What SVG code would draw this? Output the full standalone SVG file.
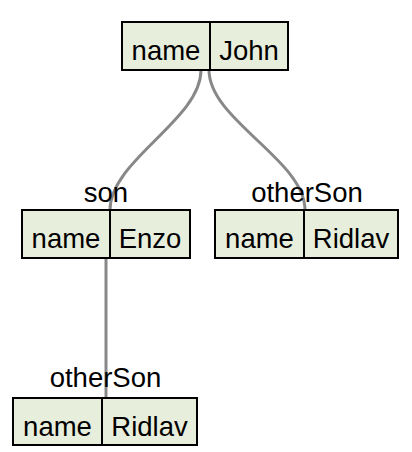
<svg xmlns="http://www.w3.org/2000/svg" width="412" height="452" viewBox="0 0 412 452">
<style>
.box{fill:#e8eedc;stroke:#000;stroke-width:2}
.div{stroke:#000;stroke-width:2}
.t{font-family:"Liberation Sans",Arial,sans-serif;font-size:27.5px;fill:#000;text-anchor:middle}
.c{fill:none;stroke:#888;stroke-width:3}
</style>
<rect width="412" height="452" fill="#fff"/>
<g id="connectors">
<path class="c" d="M201,70 C201,120 110,160 110,210"/>
<path class="c" d="M209,70 C209,120 305,160 305,210"/>
<path class="c" d="M106,258 L106,398"/>
</g>
<g id="john">
<rect class="box" x="122" y="22" width="166" height="48"/>
<line class="div" x1="210" y1="22" x2="210" y2="70"/>
<text class="t" x="166" y="60">name</text>
<text class="t" x="249" y="60">John</text>
</g>
<g id="son">
<text class="t" x="106" y="202">son</text>
<rect class="box" x="22" y="210" width="168" height="48"/>
<line class="div" x1="110" y1="210" x2="110" y2="258"/>
<text class="t" x="66" y="248">name</text>
<text class="t" x="150" y="248">Enzo</text>
</g>
<g id="otherSon1">
<text class="t" x="307" y="202">otherSon</text>
<rect class="box" x="215" y="210" width="183" height="48"/>
<line class="div" x1="304" y1="210" x2="304" y2="258"/>
<text class="t" x="259.5" y="248">name</text>
<text class="t" x="351" y="248">Ridlav</text>
</g>
<g id="otherSon2">
<text class="t" x="105.5" y="387">otherSon</text>
<rect class="box" x="13" y="398" width="184" height="47"/>
<line class="div" x1="102" y1="398" x2="102" y2="445"/>
<text class="t" x="57.5" y="436">name</text>
<text class="t" x="149.5" y="436">Ridlav</text>
</g>
</svg>
